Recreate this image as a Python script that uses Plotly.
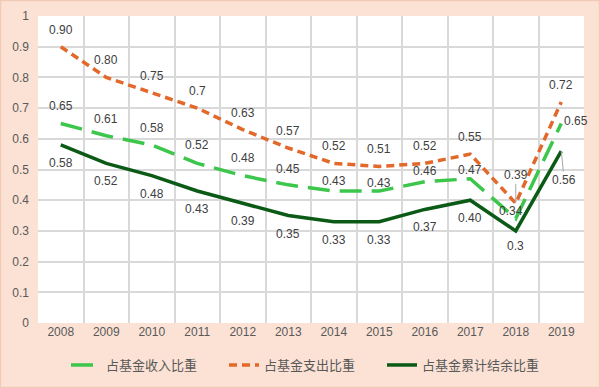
import plotly.graph_objects as go

years = ["2008", "2009", "2010", "2011", "2012", "2013", "2014", "2015", "2016", "2017", "2018", "2019"]
income = [0.65, 0.61, 0.58, 0.52, 0.48, 0.45, 0.43, 0.43, 0.46, 0.47, 0.34, 0.65]
expense = [0.90, 0.80, 0.75, 0.70, 0.63, 0.57, 0.52, 0.51, 0.52, 0.55, 0.39, 0.72]
balance = [0.58, 0.52, 0.48, 0.43, 0.39, 0.35, 0.33, 0.33, 0.37, 0.40, 0.30, 0.56]
expense_text = ["0.90", "0.80", "0.75", "0.7", "0.63", "0.57", "0.52", "0.51", "0.52", "0.55", "0.39", "0.72"]
income_text = ["0.65", "0.61", "0.58", "0.52", "0.48", "0.45", "0.43", "0.43", "0.46", "0.47", "0.34", "0.65"]
balance_text = ["0.58", "0.52", "0.48", "0.43", "0.39", "0.35", "0.33", "0.33", "0.37", "0.40", "0.3", "0.56"]
yticks = [0, 0.1, 0.2, 0.3, 0.4, 0.5, 0.6, 0.7, 0.8, 0.9, 1]
ytick_text = ["0", "0.1", "0.2", "0.3", "0.4", "0.5", "0.6", "0.7", "0.8", "0.9", "1"]

x = list(range(len(years)))
n = len(years)
ORANGE = "#E2692A"
LGREEN = "#3CC64C"
DGREEN = "#0B5A16"
LABEL_FONT = dict(family="Liberation Sans, Arial, sans-serif", size=12, color="#404040")

# label offsets in pixels (style only)
exp_shift = [17] * n
inc_shift = [17, 17, 17, 18, 18, 16, 10, 8, 11, 9, 8, 2]
bal_shift = [-18] * n

fig = go.Figure()
fig.add_trace(go.Scatter(x=x, y=income, mode="lines", name="占基金收入比重",
                         line=dict(color=LGREEN, width=3.5, dash="22px,10px")))
fig.add_trace(go.Scatter(x=x, y=expense, mode="lines", name="占基金支出比重",
                         line=dict(color=ORANGE, width=3.5, dash="8px,5px")))
fig.add_trace(go.Scatter(x=x, y=balance, mode="lines", name="占基金累计结余比重",
                         line=dict(color=DGREEN, width=3.5)))

annotations = []
for i in range(n):
    if i == n - 2:
        annotations.append(dict(x=x[i], y=expense[i], text=expense_text[i], showarrow=True,
                                arrowhead=0, arrowwidth=1, arrowcolor="#A6A6A6", ax=0, ay=-28,
                                font=LABEL_FONT))
    else:
        annotations.append(dict(x=x[i], y=expense[i], text=expense_text[i], showarrow=False,
                                yshift=exp_shift[i], font=LABEL_FONT))
    if i == n - 2:
        annotations.append(dict(x=x[i], y=income[i], text=income_text[i], showarrow=False,
                                xshift=-5, yshift=inc_shift[i], font=LABEL_FONT))
    elif i == n - 1:
        annotations.append(dict(x=x[i], y=income[i], text=income_text[i], showarrow=False,
                                xanchor="left", xshift=1, yshift=inc_shift[i], font=LABEL_FONT))
    else:
        annotations.append(dict(x=x[i], y=income[i], text=income_text[i], showarrow=False,
                                yshift=inc_shift[i], font=LABEL_FONT))
    if i == n - 1:
        annotations.append(dict(x=x[i], y=balance[i], text=balance_text[i], showarrow=True,
                                arrowhead=0, arrowwidth=1, arrowcolor="#A6A6A6", ax=3, ay=29,
                                font=LABEL_FONT))
    elif i == n - 2:
        annotations.append(dict(x=x[i], y=balance[i], text=balance_text[i], showarrow=False,
                                yshift=-15, font=LABEL_FONT))
    else:
        annotations.append(dict(x=x[i], y=balance[i], text=balance_text[i], showarrow=False,
                                yshift=bal_shift[i], font=LABEL_FONT))

fig.update_layout(
    width=600, height=388,
    margin=dict(l=38, r=16, t=16, b=65, autoexpand=False),
    paper_bgcolor="#FBE2D5",
    plot_bgcolor="#FFFFFF",
    annotations=annotations,
    showlegend=True,
    legend=dict(orientation="h", x=(66 - 38) / 546, xanchor="left", y=-0.088, yanchor="top",
                font=dict(family="Noto Sans CJK SC, sans-serif", size=13, color="#595959"),
                bgcolor="rgba(0,0,0,0)", entrywidth=113, entrywidthmode="pixels"),
    shapes=[dict(type="rect", xref="paper", yref="paper",
                 x0=-37.5/546, x1=1 + 15.5/546, y0=-64.5/307, y1=1 + 15.5/307,
                 line=dict(color="#F2CBB7", width=1.5), fillcolor="rgba(0,0,0,0)", layer="below")],
)

fig.update_xaxes(
    range=[-0.5, n - 0.5], tickmode="array", tickvals=x, ticktext=years,
    showgrid=False, zeroline=False, showline=False, ticks="",
    tickfont=dict(family="Liberation Sans, Arial, sans-serif", size=12, color="#595959"),
    minor=dict(tickmode="array", tickvals=[v - 0.5 for v in x] + [n - 0.5],
               showgrid=True, gridcolor="#D9D9D9", gridwidth=1.5, ticks=""),
    fixedrange=True,
)
fig.update_yaxes(
    range=[0, 1], tickmode="array", tickvals=yticks, ticktext=ytick_text,
    showgrid=True, gridcolor="#D9D9D9", gridwidth=1.5, zeroline=False, showline=False,
    ticks="", ticklabelstandoff=8,
    tickfont=dict(family="Liberation Sans, Arial, sans-serif", size=12, color="#595959"),
    fixedrange=True,
)

fig.write_html("out.html", config={"displayModeBar": False},
               post_script="document.body.style.margin='0';")
